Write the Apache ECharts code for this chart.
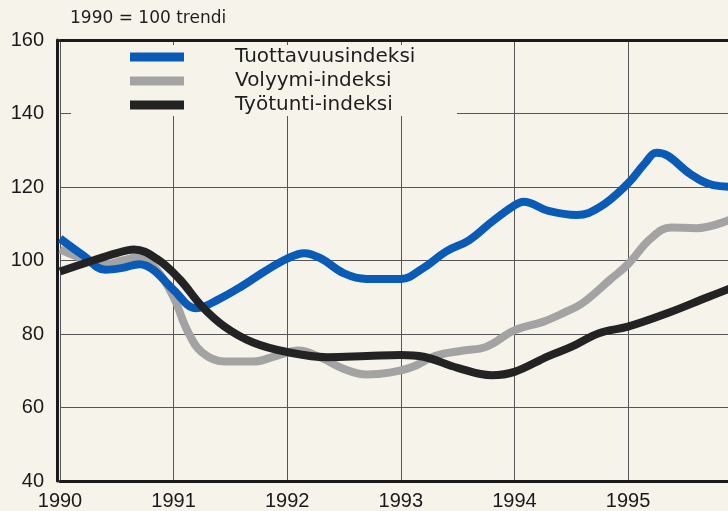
<!DOCTYPE html>
<html>
<head>
<meta charset="utf-8">
<script src="https://cdn.jsdelivr.net/npm/echarts@6/dist/echarts.min.js"></script>
<style>
  html, body { margin: 0; padding: 0; background: #f6f4ea; }
  #main { width: 728px; height: 511px; }
</style>
</head>
<body>
<div id="main"></div>
<script>
// 1990 = 100, trendi
const seriesNames = ["Tuottavuusindeksi", "Volyymi-indeksi", "Työtunti-indeksi"];
const yearTicks = [1990, 1991, 1992, 1993, 1994, 1995];

const tuottavuus = [
  [1990, 106], [1990.2, 101.5], [1990.4, 97.5], [1990.55, 98], [1990.7, 99],
  [1990.82, 97.5], [1991, 92], [1991.2, 87], [1991.4, 89.5], [1991.6, 93],
  [1991.8, 97], [1992, 100.5], [1992.15, 102], [1992.3, 100.5], [1992.5, 96.5],
  [1992.7, 95], [1993, 95], [1993.2, 98], [1993.4, 102.5], [1993.6, 105.5],
  [1993.8, 110.5], [1994, 115], [1994.08, 116], [1994.3, 113.5], [1994.55, 112.4],
  [1994.75, 114.5], [1995, 121], [1995.15, 126.5], [1995.25, 129.3], [1995.35, 128.5],
  [1995.55, 123.5], [1995.75, 120.5], [1995.95, 120]
];

const volyymi = [
  [1990, 103], [1990.2, 100.5], [1990.4, 99], [1990.55, 100], [1990.7, 101],
  [1990.85, 97.5], [1991, 90], [1991.12, 81], [1991.25, 75], [1991.45, 72.5],
  [1991.7, 72.5], [1991.9, 74], [1992.1, 75.5], [1992.3, 73.5], [1992.5, 70.5],
  [1992.7, 69], [1992.9, 69.5], [1993.1, 71], [1993.3, 74], [1993.55, 75.5],
  [1993.75, 76.5], [1994, 81], [1994.25, 83.3], [1994.45, 86], [1994.6, 88.4],
  [1994.85, 95], [1995, 99], [1995.2, 106], [1995.38, 109], [1995.6, 108.8],
  [1995.95, 111.8]
];

const tyotunti = [
  [1990, 97], [1990.25, 99.6], [1990.5, 102], [1990.65, 103], [1990.85, 100.5],
  [1991.05, 95], [1991.25, 87.5], [1991.45, 82], [1991.7, 77.7], [1992, 75.1],
  [1992.35, 73.7], [1992.7, 74], [1993, 74.3], [1993.2, 73.8], [1993.5, 70.8],
  [1993.8, 68.8], [1994, 69.7], [1994.3, 74], [1994.5, 76.5], [1994.75, 80.3],
  [1995, 82], [1995.35, 85.7], [1995.7, 90], [1995.95, 93]
];

const colors = ["#0a5ab8", "#a3a3a3", "#232323"];

// the printed chart is cut off at the right, a bit before 1996
const xMax = 1995.88;

const myChart = echarts.init(document.getElementById("main"));
myChart.setOption({
  backgroundColor: "#f6f4ea",
  animation: false,
  title: {
    text: "1990 = 100 trendi",
    left: 70,
    top: 10,
    padding: 0,
    textStyle: {
      fontFamily: "DejaVu Sans",
      fontSize: 17,
      fontWeight: "normal",
      color: "#1e1e1e",
    },
  },
  legend: {
    data: seriesNames,
    orient: "vertical",
    left: 130,
    top: 47,
    padding: 0,
    itemGap: 4,
    itemWidth: 54,
    itemHeight: 9,
    icon: "rect",
    textStyle: {
      fontFamily: "DejaVu Sans",
      fontSize: 20,
      lineHeight: 20,
      color: "#1e1e1e",
      padding: [0, 0, 0, 46],
    },
  },
  grid: {
    left: 60,
    right: 0,
    top: 40,
    bottom: 30,
    containLabel: false,
    outerBoundsMode: "none",
  },
  // paper-coloured box behind the legend, hides grid lines there
  graphic: [
    {
      type: "rect",
      z: 1,
      shape: { x: 71, y: 45, width: 386, height: 71 },
      style: { fill: "#f6f4ea" },
    },
  ],
  xAxis: [
    {
      type: "value",
      min: 1990,
      max: xMax,
      interval: 1,
      axisLine: { lineStyle: { color: "#1a1a1a", width: 3 } },
      axisTick: { show: false },
      splitLine: { lineStyle: { color: "#555", width: 1 } },
      axisLabel: {
        margin: 10,
        fontFamily: "Liberation Sans",
        fontSize: 20,
        color: "#1a1a1a",
        formatter: function (v) {
          return yearTicks.indexOf(v) >= 0 ? String(v) : "";
        },
      },
    },
    {
      // thick top border
      type: "value",
      position: "top",
      min: 1990,
      max: xMax,
      axisLine: { onZero: false, lineStyle: { color: "#1a1a1a", width: 3 } },
      axisTick: { show: false },
      axisLabel: { show: false },
      splitLine: { show: false },
    },
  ],
  yAxis: {
    type: "value",
    min: 40,
    max: 160,
    interval: 20,
    offset: 3,
    axisLine: { show: true, lineStyle: { color: "#1a1a1a", width: 3 } },
    axisTick: { show: false },
    splitLine: { lineStyle: { color: "#555", width: 1 } },
    axisLabel: {
      margin: 13,
      fontFamily: "Liberation Sans",
      fontSize: 20,
      color: "#1a1a1a",
    },
  },
  series: [
    {
      name: seriesNames[1],
      type: "line",
      data: volyymi,
      smooth: 0.4,
      symbol: "none",
      z: 2,
      lineStyle: { color: colors[1], width: 8 },
      itemStyle: { color: colors[1] },
    },
    {
      name: seriesNames[0],
      type: "line",
      data: tuottavuus,
      smooth: 0.4,
      symbol: "none",
      z: 3,
      lineStyle: { color: colors[0], width: 8 },
      itemStyle: { color: colors[0] },
    },
    {
      name: seriesNames[2],
      type: "line",
      data: tyotunti,
      smooth: 0.4,
      symbol: "none",
      z: 4,
      lineStyle: { color: colors[2], width: 8 },
      itemStyle: { color: colors[2] },
    },
  ],
});

window.addEventListener("resize", function () {
  myChart.resize();
});
</script>
</body>
</html>
